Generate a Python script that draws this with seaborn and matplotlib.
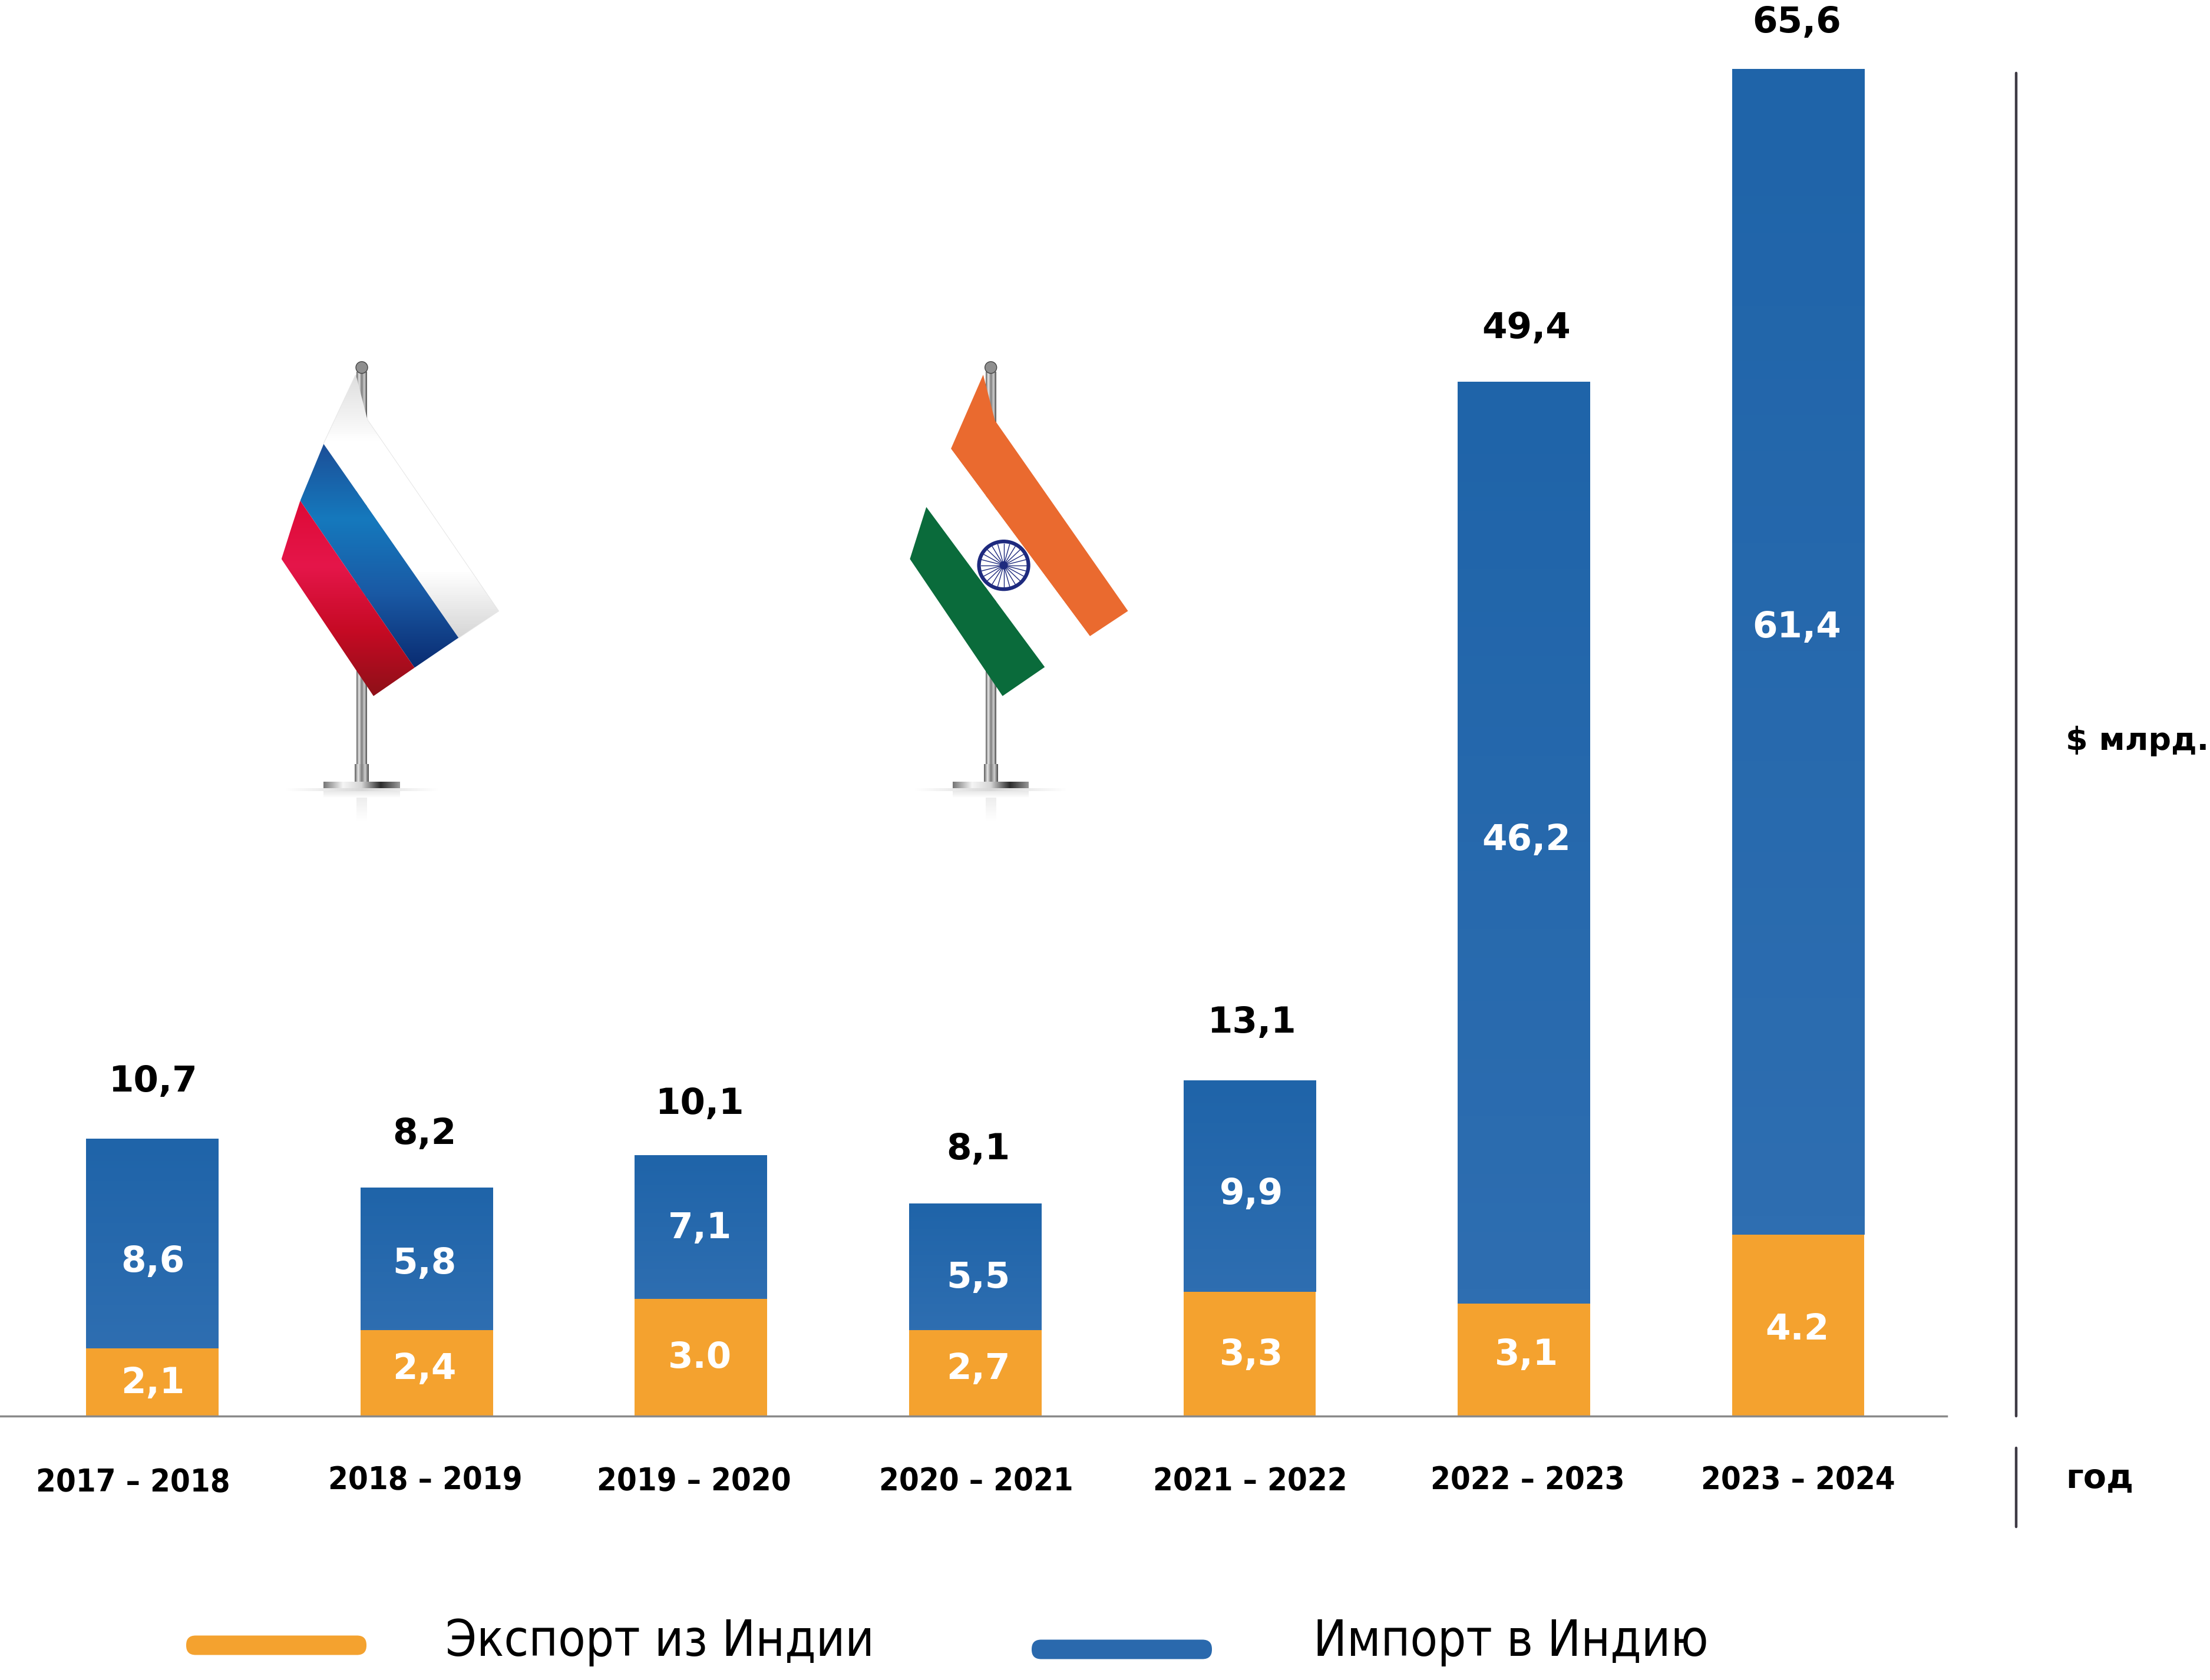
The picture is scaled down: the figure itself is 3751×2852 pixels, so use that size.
import numpy as np
import matplotlib
matplotlib.use("Agg")
import matplotlib.pyplot as plt
import seaborn as sns
from matplotlib.colors import LinearSegmentedColormap
from matplotlib.patches import Polygon, FancyBboxPatch, Ellipse
from matplotlib.transforms import ScaledTranslation
from matplotlib.font_manager import FontProperties

# ---------- data ----------
periods = ["2017 – 2018", "2018 – 2019", "2019 – 2020", "2020 – 2021",
           "2021 – 2022", "2022 – 2023", "2023 – 2024"]
export_labels = ["2,1", "2,4", "3.0", "2,7", "3,3", "3,1", "4.2"]
import_labels = ["8,6", "5,8", "7,1", "5,5", "9,9", "46,2", "61,4"]
total_labels = ["10,7", "8,2", "10,1", "8,1", "13,1", "49,4", "65,6"]
# bar heights as drawn in the picture (the original is not to scale for small bars)
export_drawn = [3.29, 4.19, 5.70, 4.19, 6.04, 5.49, 8.85]
import_drawn = [10.23, 6.93, 7.00, 6.18, 10.30, 44.89, 56.76]
legend_names = ["Экспорт из Индии", "Импорт в Индию"]

ORANGE = "#F4A22F"
BLUE_TOP, BLUE_BOT = "#1F64A9", "#2E6EB1"
W, H = 3751, 2852
S = 3751 / 1568  # preview pixels -> real pixels
BASE = 2404
XL = (-692.0 / 194.6 + 3, (1381 - 692.0) / 194.6 + 3)

sns.set_theme(style="white")
fig = plt.figure(figsize=(W / 100, H / 100), dpi=100, facecolor="white")
ax = fig.add_axes([0, (H - BASE) / H, 1381 * S / W, BASE / H])

sns.barplot(x=periods, y=export_drawn, color=ORANGE, saturation=1, width=0.483,
            linewidth=0, ax=ax)
n_before = len(ax.patches)
sns.barplot(x=periods, y=import_drawn, bottom=export_drawn, color=BLUE_BOT, saturation=1,
            width=0.483, linewidth=0, ax=ax)
ymax = BASE / (14.57 * S)

# vertical gradient of the blue bars
cmap_blue = LinearSegmentedColormap.from_list("b", [BLUE_TOP, BLUE_BOT])
for p in ax.patches[n_before:]:
    im = ax.imshow(np.linspace(0, 1, 64)[:, None], cmap=cmap_blue, aspect="auto", zorder=3,
                   extent=[p.get_x(), p.get_x() + p.get_width(),
                           p.get_y(), p.get_y() + p.get_height()], origin="upper")
    im.set_clip_path(p)
ax.set_xlim(*XL)
ax.set_ylim(0, ymax)

sns.despine(ax=ax, left=True, top=True, right=True)
ax.spines["bottom"].set_color("#8a8a8a")
ax.spines["bottom"].set_linewidth(2.5)
ax.set_yticks([])
ax.set_facecolor("none")

# tick labels (each sits slightly off its bar in the original)
tick_fp = FontProperties(family="DejaVu Sans", weight="bold", stretch="condensed", size=39)
ax.set_xticks(range(len(periods)))
ax.set_xticklabels(periods)
ax.tick_params(axis="x", length=0, pad=58)
tick_dx = [-14, -1.2, -5, 0.5, 0.3, 2.5, -0.2]
tick_dy = [3, 1, 2, 2, 2, 1, 1]
for lab, dx, dy in zip(ax.get_xticklabels(), tick_dx, tick_dy):
    lab.set_fontproperties(tick_fp)
    lab.set_color("black")
    lab.set_transform(lab.get_transform() +
                      ScaledTranslation(dx * S / 100, -dy * S / 100, fig.dpi_scale_trans))

# ---------- overlay in picture pixels ----------
ov = fig.add_axes([0, 0, 1, 1], facecolor="none")
ov.set_xlim(0, W)
ov.set_ylim(H, 0)
ov.axis("off")

bold = dict(family="DejaVu Sans", weight="bold", ha="center", va="center_baseline")
lab_x = [108.5, 301, 496.5, 694, 888, 1083, 1275]
total_y = [765, 802, 781, 813, 723, 230.5, 13.5]
import_y = [893, 894, 869, 904, 845, 593.5, 442.5]
export_y = [979, 969, 961, 969, 959, 959, 941]
for x, yt, yi, ye, t, i, e in zip(lab_x, total_y, import_y, export_y,
                                  total_labels, import_labels, export_labels):
    ov.text(x * S, yt * S, t, color="black", fontsize=44, **bold)
    ov.text(x * S, yi * S, i, color="white", fontsize=44, **bold)
    ov.text(x * S, ye * S, e, color="white", fontsize=44, **bold)

# right-hand axis marks
for y0, y1 in [(124, 2404), (2458, 2592)]:
    ov.plot([3422, 3422], [y0, y1], color="#3f3b45", lw=3.2, solid_capstyle="round")
ov.text(3506, 1253, "$ млрд.", color="black", fontsize=39, family="DejaVu Sans",
        weight="bold", ha="left", va="center_baseline")
ov.text(3506, 2505, "год", color="black", fontsize=41, family="DejaVu Sans",
        weight="bold", ha="left", va="center_baseline")

# legend
for (x0, x1, yc, col, tx, name) in [(316, 622, 2793, ORANGE, 756, legend_names[0]),
                                    (1751, 2057, 2800, "#2A69AD", 2229, legend_names[1])]:
    h = 33
    ov.add_patch(FancyBboxPatch((x0, yc - h / 2), x1 - x0, h,
                                boxstyle="round,pad=0,rounding_size=16", mutation_aspect=1,
                                fc=col, ec="none"))
    ov.text(tx, 2811, name, color="black", fontsize=61, va="baseline", ha="left",
            family="DejaVu Sans", stretch="condensed")


# ---------- decorative table flags ----------
def zx(v):
    return 420 + v / 1.005


def zy(v):
    return 580 + v / 1.87


def grad_poly(pts, colors, horizontal=False):
    pts = np.array([(zx(a), zy(b)) for a, b in pts])
    poly = Polygon(pts, closed=True, fc="none", ec="none", transform=ov.transData)
    ov.add_patch(poly)
    cm = LinearSegmentedColormap.from_list("g", colors)
    g = np.linspace(0, 1, 128)[:, None]
    if horizontal:
        g = g.T
    im = ov.imshow(g, cmap=cm, aspect="auto", zorder=4,
                   extent=[pts[:, 0].min(), pts[:, 0].max(), pts[:, 1].max(), pts[:, 1].min()])
    im.set_clip_path(poly)


METAL = ["#5e5e5e", "#e8e8e8", "#7c7c7c", "#cfcfcf", "#4a4a4a"]


def stand(cx):
    grad_poly([(cx - 9, 95), (cx + 9, 95), (cx + 9, 1345), (cx - 9, 1345)], METAL, True)
    grad_poly([(cx - 12, 1340), (cx + 12, 1340), (cx + 12, 1396), (cx - 12, 1396)], METAL, True)
    grad_poly([(cx - 65, 1396), (cx + 65, 1396), (cx + 65, 1424), (cx - 65, 1424)],
              ["#777777", "#f5f5f5", "#d5d5d5", "#2b2b2b", "#9a9a9a"], True)
    grad_poly([(cx - 65, 1424), (cx + 65, 1424), (cx + 65, 1448), (cx - 65, 1448)],
              ["#e4e4e4", "#ffffff"])
    grad_poly([(cx - 9, 1448), (cx + 9, 1448), (cx + 9, 1520), (cx - 9, 1520)],
              ["#eeeeee", "#ffffff"])
    ov.add_patch(Ellipse((zx(cx), zy(82)), 20, 20, fc="#8f8f8f", ec="#444444", lw=1, zorder=5))
    grad_poly([(cx - 130, 1418), (cx + 130, 1418), (cx + 130, 1426), (cx - 130, 1426)],
              ["#ffffff", "#d8d8d8", "#ffffff"], True)


ov.set_xlim(0, W)
ov.set_ylim(H, 0)
stand(195)
stand(1268)

# Russia
white_pts = [(185, 105), (130, 325), (360, 940), (428, 855), (205, 250)]
ov.add_patch(Polygon([(zx(a), zy(b)) for a, b in white_pts], fc="white", ec="#e6e6e6",
                     lw=1.5, zorder=3.9))
grad_poly(white_pts, ["#dedede", "#ffffff", "#ffffff", "#ffffff", "#d6d6d6"])
grad_poly([(130, 325), (90, 505), (285, 1035), (360, 940)],
          ["#1C4F98", "#1579BD", "#1A5AA5", "#0A2C72"])
grad_poly([(90, 505), (75, 590), (58, 690), (215, 1125), (285, 1035)],
          ["#DE0A37", "#E5164A", "#C60A24", "#8E1018"])
# India
dx = 1073
ov.add_patch(Polygon([(zx(a + dx), zy(b)) for a, b in
                      [(182, 105), (127, 340), (364, 935), (429, 855), (202, 250)]],
                     fc="#EA6A2F", ec="none", zorder=4))
ov.add_patch(Polygon([(zx(a + dx), zy(b)) for a, b in
                      [(127, 340), (85, 525), (287, 1033), (364, 935)]],
                     fc="white", ec="none", zorder=4))
ov.add_patch(Polygon([(zx(a + dx), zy(b)) for a, b in
                      [(85, 525), (57, 690), (215, 1125), (287, 1033)]],
                     fc="#0A6B3B", ec="none", zorder=4))
# wheel
cx, cy = zx(1290), zy(710)
ov.add_patch(Ellipse((cx, cy), 84, 81, fc="white", ec="#1E2A7E", lw=4.5, zorder=5))
for a in np.linspace(0, 2 * np.pi, 24, endpoint=False):
    ov.plot([cx, cx + 39 * np.cos(a)], [cy, cy + 37 * np.sin(a)], color="#1E2A7E", lw=1.0, zorder=5)
ov.add_patch(Ellipse((cx, cy), 14, 14, fc="#1E2A7E", ec="none", zorder=6))

ov.set_xlim(0, W)
ov.set_ylim(H, 0)
fig.savefig("out.png", dpi=100)
